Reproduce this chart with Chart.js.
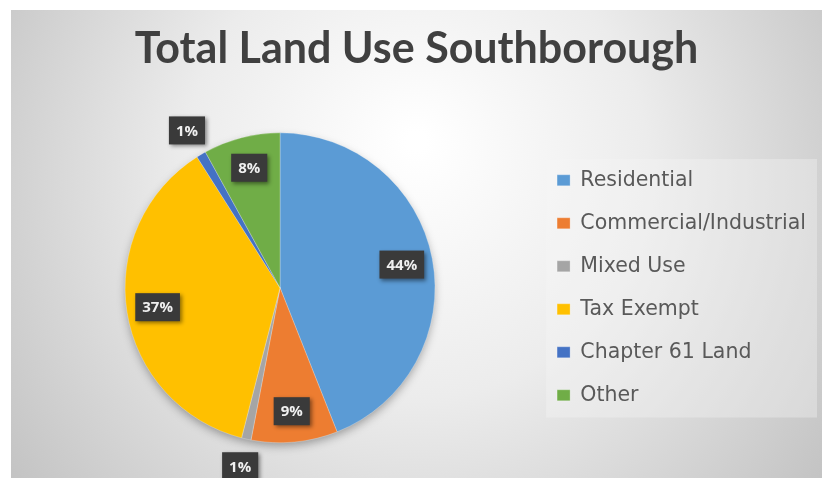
<!DOCTYPE html>
<html><head><meta charset="utf-8">
<script src="https://cdn.jsdelivr.net/npm/chart.js@4.4.1/dist/chart.umd.min.js"></script>
<style>
html,body{margin:0;padding:0;background:#fff;}
#wrap{position:absolute;left:11px;top:10px;width:811px;height:468px;}
</style></head><body>
<div id="wrap"><canvas id="c" width="811" height="468"></canvas></div>
<script>
const categories = ["Residential","Commercial/Industrial","Mixed Use","Tax Exempt","Chapter 61 Land","Other"];
const values = [44, 9, 1, 37, 1, 8];
const colors = ["#5B9BD5","#ED7D31","#A5A5A5","#FFC000","#4472C4","#70AD47"];
const titleText = "Total Land Use Southborough";

const bgPlugin = {
  id:'bg',
  afterLayout(chart){
    // centre the title on the whole canvas
    const t = chart.titleBlock;
    if (t){ t.left = 0; t.right = chart.width; t.width = chart.width; }
  },
  beforeDraw(chart){
    const {ctx,width,height} = chart;
    ctx.save();
    const g = ctx.createRadialGradient(width*0.5, height*0.28, 10, width*0.5, height*0.4, width*0.62);
    g.addColorStop(0,'#ffffff');
    g.addColorStop(0.45,'#ececec');
    g.addColorStop(1,'#c2c2c2');
    ctx.fillStyle = g;
    ctx.fillRect(0,0,width,height);
    const lg = chart.legend;
    if (lg && lg.legendHitBoxes && lg.legendHitBoxes.length){
      const hb = lg.legendHitBoxes;
      const x0 = hb[0].left - 11, y0 = hb[0].top - 11;
      const last = hb[hb.length-1];
      const x1 = Math.min(width - 4, lg.right + 1), y1 = last.top + last.height + 12;
      ctx.fillStyle = 'rgba(245,245,245,0.35)';
      ctx.fillRect(x0,y0,x1-x0,y1-y0);
    }
    ctx.restore();
  },
  beforeDatasetsDraw(chart){
    const meta = chart.getDatasetMeta(0);
    const a = meta.data[0];
    if(!a) return;
    const ctx = chart.ctx;
    ctx.save();
    ctx.shadowColor = 'rgba(0,0,0,0.35)';
    ctx.shadowBlur = 10;
    ctx.shadowOffsetY = 4;
    ctx.beginPath();
    ctx.arc(a.x, a.y, a.outerRadius-1, 0, Math.PI*2);
    ctx.fillStyle = '#bbbbbb';
    ctx.fill();
    ctx.restore();
  },
  afterDatasetsDraw(chart){
    const meta = chart.getDatasetMeta(0);
    const ctx = chart.ctx;
    ctx.save();
    ctx.font = 'bold 15px "Open Sans", Lato, sans-serif';
    ctx.textAlign = 'center';
    ctx.textBaseline = 'middle';
    meta.data.forEach((arc,i)=>{
      const v = chart.data.datasets[0].data[i];
      const mid = (arc.startAngle + arc.endAngle)/2;
      const f = v < 3 ? 1.18 : 0.8;
      const x = arc.x + Math.cos(mid)*arc.outerRadius*f;
      const y = arc.y + Math.sin(mid)*arc.outerRadius*f;
      const txt = v + '%';
      const w = ctx.measureText(txt).width + 14;
      const h = 28;
      ctx.save();
      ctx.shadowColor = 'rgba(0,0,0,0.45)';
      ctx.shadowBlur = 4;
      ctx.shadowOffsetX = 2;
      ctx.shadowOffsetY = 2;
      ctx.fillStyle = '#3a3a3a';
      ctx.fillRect(x - w/2, y - h/2, w, h);
      ctx.restore();
      ctx.fillStyle = '#f0f0f0';
      ctx.fillText(txt, x, y + 1);
    });
    ctx.restore();
  }
};

new Chart(document.getElementById('c'), {
  type:'pie',
  data:{
    labels: categories,
    datasets:[{data: values, backgroundColor: colors, borderColor:'rgba(255,255,255,0.5)', borderWidth:0.5}]
  },
  options:{
    responsive:false,
    animation:false,
    layout:{padding:{left:14.5,right:6,top:0,bottom:35}},
    plugins:{
      title:{display:true,text:titleText,color:'#404040',
        font:{family:'Lato, "Open Sans", sans-serif',size:43,weight:'bold'},
        padding:{top:13,bottom:58}},
      legend:{position:'right',fullSize:false,
        labels:{boxWidth:13,boxHeight:11,padding:22.5,color:'#595959',
          font:{family:'"DejaVu Sans", sans-serif',size:20.5}}},
      tooltip:{enabled:false}
    }
  },
  plugins:[bgPlugin]
});
</script>
</body></html>
